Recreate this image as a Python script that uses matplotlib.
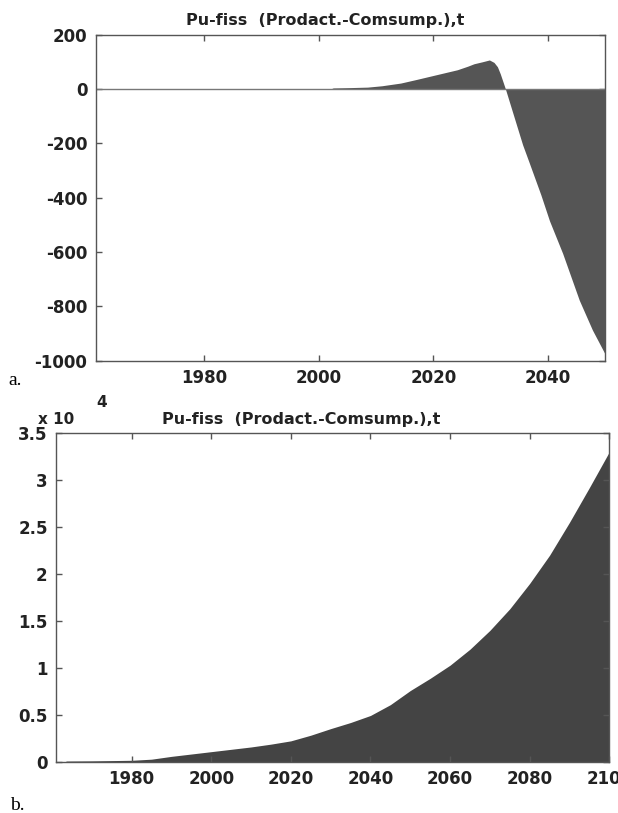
import matplotlib.pyplot as plt
from matplotlib.ticker import FormatStrFormatter

plt.rcParams["axes.unicode_minus"] = False
plt.rcParams["font.family"] = "DejaVu Sans"

TITLE = "Pu-fiss  (Prodact.-Comsump.),t"

# panel a: balance up to 2050, t
YEARS_A = [1961, 2002, 2002.5, 2005, 2008.5, 2011, 2014.3, 2017, 2020, 2022,
           2024.2, 2026, 2027.1, 2028.5, 2029.8, 2030.6, 2031.2, 2031.7, 2032.6,
           2035.6, 2036.7, 2038.8, 2040.3, 2042.6, 2045.5, 2047.8, 2050]
BALANCE_A = [0, 0, 4, 5, 7, 12, 22, 35, 50, 60,
             71, 84, 93, 100, 107, 98, 82, 56, 0,
             -205, -268, -390, -485, -605, -777, -887, -975]

# panel b: balance up to 2100, t
YEARS_B = [1963.5, 1970, 1975, 1980, 1985, 1990, 1995, 2000, 2005, 2010,
           2015, 2020, 2025, 2030, 2035, 2040, 2045, 2050, 2055, 2060,
           2065, 2070, 2075, 2080, 2085, 2090, 2095, 2100]
BALANCE_B = [100, 120, 150, 180, 300, 600, 850, 1100, 1350, 1600,
             1900, 2250, 2850, 3550, 4200, 4950, 6100, 7600, 8900, 10300,
             12000, 14000, 16300, 19000, 22000, 25500, 29200, 33000]

TICKS_A = [1980, 2000, 2020, 2040]
TICKS_B = [1980, 2000, 2020, 2040, 2060, 2080, 2100]

W, H = 618, 813


def style_axes(ax):
    for sp in ax.spines.values():
        sp.set_color("#555555")
        sp.set_linewidth(1.0)
    ax.tick_params(direction="in", length=4, width=1, color="#555555",
                   top=True, right=True, labelsize=12, pad=6)
    for lab in ax.get_xticklabels() + ax.get_yticklabels():
        lab.set_fontweight("bold")
        lab.set_color("#222222")


def main():
    fig = plt.figure(figsize=(W / 100, H / 100), dpi=100)

    ax_a = fig.add_axes([95.7 / W, 1 - 360.7 / H, (605 - 95.7) / W, (360.7 - 34.7) / H])
    ax_a.fill_between(YEARS_A, BALANCE_A, 0, color="#555555", linewidth=0)
    ax_a.axhline(0, color="#777777", linewidth=1)
    ax_a.set_xlim(1961, 2050)
    ax_a.set_ylim(-1000, 200)
    ax_a.set_xticks(TICKS_A)
    ax_a.set_yticks(range(-1000, 201, 200))
    style_axes(ax_a)

    ax_b = fig.add_axes([56 / W, 1 - 762 / H, (609.3 - 56) / W, (762 - 433) / H])
    ax_b.fill_between(YEARS_B, [v / 1e4 for v in BALANCE_B], 0,
                      color="#444444", linewidth=0)
    ax_b.set_xlim(1961, 2100)
    ax_b.set_ylim(0, 3.5)
    ax_b.set_xticks(TICKS_B)
    ax_b.set_yticks([0, 0.5, 1, 1.5, 2, 2.5, 3, 3.5])
    ax_b.yaxis.set_major_formatter(FormatStrFormatter("%g"))
    style_axes(ax_b)

    fig.text(186 / W, 1 - 21 / H, TITLE, ha="left", va="center",
             fontsize=11.5, fontweight="bold", color="#222222")
    fig.text(161.7 / W, 1 - 419 / H, TITLE, ha="left", va="center",
             fontsize=11.5, fontweight="bold", color="#222222")
    fig.text(38 / W, 1 - 424 / H, "x 10", ha="left", va="baseline",
             fontsize=11, fontweight="bold", color="#222222")
    fig.text(96 / W, 1 - 407 / H, "4", ha="left", va="baseline",
             fontsize=11, fontweight="bold", color="#222222")

    fig.text(8 / W, 1 - 385 / H, "a.", ha="left", va="baseline",
             fontsize=14, family="Liberation Serif")
    fig.text(10 / W, 1 - 810 / H, "b.", ha="left", va="baseline",
             fontsize=14, family="Liberation Serif")

    fig.savefig("out.png", dpi=100)


if __name__ == "__main__":
    main()
